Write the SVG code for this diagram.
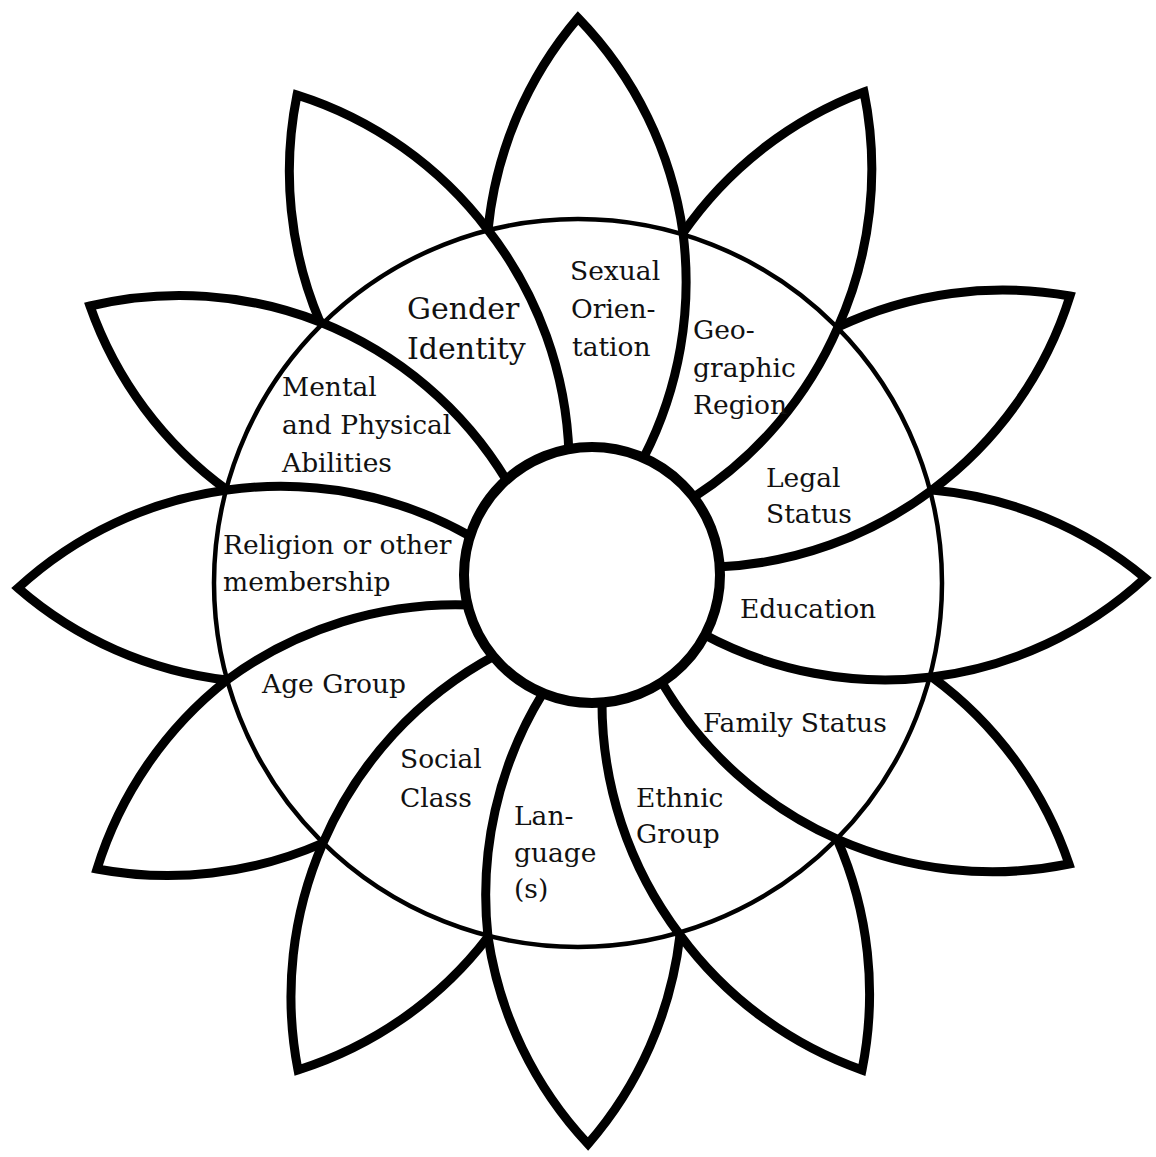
<svg xmlns="http://www.w3.org/2000/svg" width="1156" height="1157" viewBox="0 0 1156 1157">
<style>
.bg{fill:#ffffff}
.ring{fill:none;stroke:#000;stroke-width:4.5}
.petal{fill:none;stroke:#000;stroke-width:9;stroke-linejoin:miter;stroke-miterlimit:10}
.core{fill:#ffffff;stroke:#000;stroke-width:10}
.lbl{font-family:"DejaVu Serif","Liberation Serif",serif;font-size:26.5px;fill:#111}
.big{font-size:30px}
</style>
<rect class="bg" x="0" y="0" width="1156" height="1157"/>
<g id="outer-ring"><circle class="ring" cx="578" cy="583" r="364"/></g>
<g id="petals">
<path id="petal-0" class="petal" d="M488 230 A385 385 0 0 1 578 18 A385 385 0 0 1 683 233 A385 385 0 0 1 644 457"/>
<path id="petal-30" class="petal" d="M683 233 A385 385 0 0 1 864 92 A385 385 0 0 1 838 327 A385 385 0 0 1 694 497"/>
<path id="petal-60" class="petal" d="M838 327 A385 385 0 0 1 1070 296 A385 385 0 0 1 932 490 A385 385 0 0 1 717 567"/>
<path id="petal-90" class="petal" d="M932 490 A385 385 0 0 1 1145 578 A385 385 0 0 1 932 677 A385 385 0 0 1 703 634"/>
<path id="petal-120" class="petal" d="M932 677 A385 385 0 0 1 1069 864 A385 385 0 0 1 837 839 A385 385 0 0 1 661 681"/>
<path id="petal-150" class="petal" d="M837 839 A385 385 0 0 1 862 1070 A385 385 0 0 1 680 935 A385 385 0 0 1 602 699"/>
<path id="petal-180" class="petal" d="M680 935 A385 385 0 0 1 588 1144 A385 385 0 0 1 488 937 A385 385 0 0 1 543 693"/>
<path id="petal-210" class="petal" d="M488 937 A385 385 0 0 1 298 1070 A385 385 0 0 1 323 843 A385 385 0 0 1 496 655"/>
<path id="petal-240" class="petal" d="M323 843 A385 385 0 0 1 97 869 A385 385 0 0 1 227 680 A385 385 0 0 1 470 605"/>
<path id="petal-270" class="petal" d="M227 680 A385 385 0 0 1 18 588 A385 385 0 0 1 227 490 A385 385 0 0 1 470 536"/>
<path id="petal-300" class="petal" d="M227 490 A385 385 0 0 1 90 306 A385 385 0 0 1 320 322 A385 385 0 0 1 507 481"/>
<path id="petal-330" class="petal" d="M320 322 A385 385 0 0 1 297 95 A385 385 0 0 1 488 230 A385 385 0 0 1 569 455"/>
</g>
<g id="center"><circle class="core" cx="592" cy="575" r="128"/></g>
<g id="label-sexual-orientation"><text class="lbl" x="570" y="280">Sexual</text><text class="lbl" x="571" y="318">Orien-</text><text class="lbl" x="572" y="356">tation</text></g>
<g id="label-gender-identity"><text class="lbl big" x="407" y="319">Gender</text><text class="lbl big" x="407" y="359">Identity</text></g>
<g id="label-geographic-region"><text class="lbl" x="693" y="339">Geo-</text><text class="lbl" x="693" y="377">graphic</text><text class="lbl" x="693" y="414">Region</text></g>
<g id="label-mental-physical"><text class="lbl" x="282" y="396">Mental</text><text class="lbl" x="282" y="434">and Physical</text><text class="lbl" x="282" y="472">Abilities</text></g>
<g id="label-religion"><text class="lbl" x="223" y="554">Religion or other</text><text class="lbl" x="223" y="591">membership</text></g>
<g id="label-legal-status"><text class="lbl" x="766" y="487">Legal</text><text class="lbl" x="766" y="523">Status</text></g>
<g id="label-education"><text class="lbl" x="740" y="618">Education</text></g>
<g id="label-family-status"><text class="lbl" x="703" y="732">Family Status</text></g>
<g id="label-age-group"><text class="lbl" x="262" y="693">Age Group</text></g>
<g id="label-social-class"><text class="lbl" x="400" y="768">Social</text><text class="lbl" x="400" y="807">Class</text></g>
<g id="label-ethnic-group"><text class="lbl" x="636" y="807">Ethnic</text><text class="lbl" x="636" y="843">Group</text></g>
<g id="label-language"><text class="lbl" x="514" y="825">Lan-</text><text class="lbl" x="514" y="862">guage</text><text class="lbl" x="514" y="898">(s)</text></g>
<g id="connectors"></g>
</svg>
